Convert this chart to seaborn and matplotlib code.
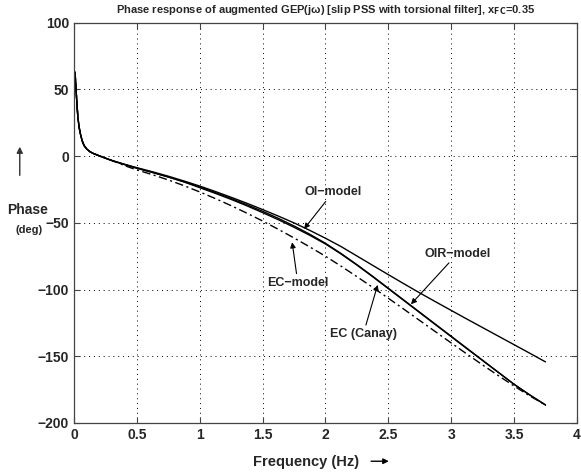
import numpy as np
import seaborn as sns
import matplotlib.pyplot as plt

sns.set_style("ticks")
plt.rcParams['font.family'] = ['Liberation Sans', 'DejaVu Sans']
plt.rcParams['font.weight'] = 'bold'

# frequency points (Hz)
freq = [0.008, 0.02, 0.03, 0.04, 0.05, 0.065, 0.08, 0.1, 0.125, 0.15, 0.2, 0.25, 0.3, 0.4,
        0.5, 0.625, 0.75, 0.875, 1.0, 1.125, 1.25, 1.375, 1.5, 1.625, 1.75, 1.875,
        2.0, 2.125, 2.25, 2.375, 2.5, 2.625, 2.75, 2.875, 3.0, 3.125, 3.25, 3.375,
        3.5, 3.625, 3.75]

# common low-frequency part (deg)
start = [63, 44, 30, 22, 17, 11.5, 8, 5.5, 3.5, 2.2, 0.3, -1.5, -3.2]

oi_model = start + [-6.0, -8.6, -11.7, -15.0, -18.6, -22.4, -26.5, -30.8, -35.3,
                    -40.0, -44.9, -50.0, -55.6, -61.5, -67.8, -74.8, -81.8, -88.8,
                    -95.7, -102.5, -109.1, -115.6, -122.1, -128.5, -134.9, -141.3,
                    -147.7, -154.2]
oir_model = start + [-6.2, -9.0, -12.2, -15.6, -19.2, -23.1, -27.3, -31.7, -36.4,
                     -41.3, -46.6, -52.3, -58.5, -65.3, -73.0, -81.3, -90.0, -99.0,
                     -108.0, -117.0, -126.0, -135.0, -144.0, -153.0, -162.0, -171.0,
                     -179.0, -186.5]
ec_canay = start + [-6.2, -9.0, -12.2, -15.6, -19.3, -23.6, -27.9, -32.4, -37.2,
                    -42.3, -47.6, -53.3, -59.3, -65.8, -73.4, -81.6, -90.3, -99.3,
                    -108.3, -117.3, -126.3, -135.3, -144.3, -153.2, -162.1, -171.0,
                    -179.0, -186.5]
ec_model = start + [-7.0, -10.3, -13.9, -17.8, -22.1, -26.8, -31.8, -37.1, -42.7,
                    -48.6, -54.8, -61.3, -68.0, -75.0, -82.5, -90.3, -98.3, -106.5,
                    -114.8, -123.2, -131.6, -140.0, -148.3, -156.5, -164.5, -172.3,
                    -179.7, -186.5]

fig = plt.figure(figsize=(5.81, 4.75), dpi=100)
ax = fig.add_axes([0.1274, 0.1095, 0.8656, 0.8425])

for y in [oi_model, oir_model, ec_canay]:
    sns.lineplot(x=freq, y=y, ax=ax, color='k', lw=1.0)
sns.lineplot(x=freq, y=ec_model, ax=ax, color='k', lw=1.0)
ax.lines[-1].set_dashes([6, 2.5, 1.5, 2.5])

ax.set_xlim(0, 4)
ax.set_ylim(-200, 100)
ax.set_xticks(np.arange(0, 4.01, 0.5))
ax.set_xticklabels(['0', '0.5', '1', '1.5', '2', '2.5', '3', '3.5', '4'])
ax.set_yticks([-200, -150, -100, -50, 0, 50, 100])
ax.set_yticklabels(['\u2212200', '\u2212150', '\u2212100', '\u221250', '0', '50', '100'])
ax.tick_params(direction='in', top=True, right=True, labelsize=10, length=4,
               width=0.8, color='#444444')
for lab in ax.get_xticklabels() + ax.get_yticklabels():
    lab.set_fontweight('bold')
ax.grid(True, linestyle=(0, (1, 4)), color='k', lw=0.7)
for s in ax.spines.values():
    s.set_color('#444444')
    s.set_linewidth(0.9)

ax.set_title('Phase response of augmented GEP(j\u03c9) [slip PSS with torsional filter], '
             'x$_{\\mathbf{FC}}$=0.35', fontsize=8, fontweight='bold', pad=7)

# labels drawn MATLAB style with arrows
fig.text(0.047, 0.558, 'Phase', fontsize=10, fontweight='bold', ha='center', va='center')
fig.text(0.050, 0.515, '(deg)', fontsize=8, fontweight='bold', ha='center', va='center')
ax.annotate('', xy=(0.034, 0.697), xytext=(0.034, 0.625), xycoords='figure fraction',
            arrowprops=dict(arrowstyle='-|>', color='#333333', lw=1.0, mutation_scale=9))
fig.text(0.527, 0.028, 'Frequency (Hz)', fontsize=10.5, fontweight='bold',
         ha='center', va='center')
ax.annotate('', xy=(0.674, 0.029), xytext=(0.634, 0.029), xycoords='figure fraction',
            arrowprops=dict(arrowstyle='-|>', color='k', lw=1.0, mutation_scale=8))

arrow = dict(arrowstyle='-|>', color='k', lw=0.8, mutation_scale=8, shrinkA=0, shrinkB=0)
ax.annotate('OI\u2212model', xy=(1.83, -54.5), xytext=(2.06, -27), fontsize=9,
            fontweight='bold', ha='center', va='center', arrowprops=arrow)
ax.annotate('EC\u2212model', xy=(1.735, -64.5), xytext=(1.78, -95), fontsize=9,
            fontweight='bold', ha='center', va='center', arrowprops=arrow)
ax.annotate('OIR\u2212model', xy=(2.68, -111), xytext=(3.05, -73), fontsize=9,
            fontweight='bold', ha='center', va='center', arrowprops=arrow)
ax.annotate('EC (Canay)', xy=(2.415, -96.5), xytext=(2.3, -133.5), fontsize=9,
            fontweight='bold', ha='center', va='center', arrowprops=arrow)

fig.savefig('out.png', dpi=100, facecolor='white')
